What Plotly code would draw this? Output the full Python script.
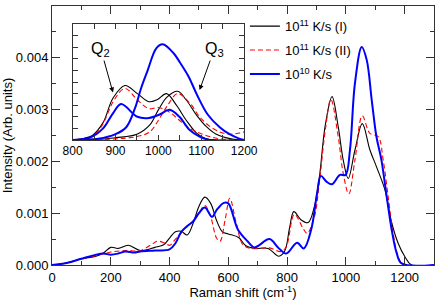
import plotly.graph_objects as go

# ---------------- main panel data (Intensity in units of 1e-3) ----------------
x_I = [0, 50, 100, 150, 175, 200, 225, 260, 300, 350, 380, 400, 420, 440, 460, 480, 500, 520, 540, 560,
       580, 600, 635, 660, 690, 735, 772, 792, 808, 823, 848, 872, 893, 910, 930, 953, 974, 991, 1008,
       1031, 1056, 1082, 1104, 1133, 1155, 1178, 1201, 1224, 1300]
y_I = [0, 0.04, 0.12, 0.17, 0.23, 0.34, 0.32, 0.38, 0.28, 0.34, 0.39, 0.52, 0.64, 0.65, 0.58, 0.80, 1.13,
       1.31, 1.19, 0.86, 0.64, 0.60, 0.53, 0.37, 0.32, 0.32, 0.17, 0.27, 0.70, 1.03, 0.87, 0.82, 1.13,
       1.70, 2.70, 3.25, 2.67, 2.03, 1.67, 2.22, 2.73, 2.22, 1.90, 1.45, 0.84, 0.42, 0.16, 0.0, 0]

x_II = [0, 50, 100, 150, 200, 250, 300, 340, 360, 385, 400, 420, 440, 460, 480, 500, 520, 540, 560, 572,
        590, 605, 627, 650, 678, 740, 780, 797, 825, 854, 868, 893, 910, 930, 949, 974, 991, 1010, 1031,
        1056, 1082, 1110, 1127, 1144, 1161, 1178, 1195, 1300]
y_II = [0, 0.04, 0.12, 0.18, 0.25, 0.28, 0.28, 0.40, 0.46, 0.42, 0.38, 0.50, 0.62, 0.76, 0.84, 1.00,
        1.15, 0.93, 0.52, 0.46, 0.90, 1.29, 0.81, 0.39, 0.32, 0.33, 0.26, 0.35, 0.98, 0.71, 0.61, 0.93,
        1.60, 2.60, 3.20, 2.48, 1.77, 1.37, 2.03, 2.88, 2.54, 2.48, 2.03, 1.32, 0.61, 0.16, 0.01, 0]

x_10 = [0, 50, 100, 150, 175, 200, 225, 250, 280, 300, 350, 400, 420, 440, 460, 480, 500, 520, 545, 560,
        585, 600, 633, 667, 689, 740, 769, 797, 834, 857, 882, 902, 915, 934, 953, 980, 999, 1014, 1031,
        1054, 1071, 1088, 1104, 1121, 1139, 1156, 1173, 1190, 1300]
y_10 = [0, 0.04, 0.12, 0.20, 0.22, 0.20, 0.22, 0.26, 0.24, 0.26, 0.28, 0.30, 0.42, 0.64, 0.75, 0.84,
        1.00, 1.11, 0.93, 1.06, 1.20, 1.19, 0.68, 0.45, 0.34, 0.50, 0.34, 0.22, 0.43, 0.32, 0.68, 1.38,
        1.72, 1.61, 1.56, 1.74, 1.74, 2.22, 3.51, 4.21, 3.96, 3.19, 2.48, 2.03, 1.32, 0.68, 0.23, 0.03, 0]

# ---------------- inset data (arbitrary units) ----------------
ix_I_q2 = [800, 827, 846, 871, 894, 922, 951, 978, 998, 1019, 1042, 1065, 1089, 1112, 1140, 1200]
iy_I_q2 = [0, 0.015, 0.04, 0.15, 0.36, 0.47, 0.40, 0.33, 0.35, 0.40, 0.30, 0.17, 0.06, 0.01, 0, 0]
ix_I_q3 = [800, 860, 900, 950, 980, 1000, 1020, 1045, 1065, 1089, 1112, 1135, 1170, 1200]
iy_I_q3 = [0, 0.005, 0.02, 0.05, 0.13, 0.26, 0.37, 0.42, 0.345, 0.215, 0.115, 0.05, 0.01, 0]

ix_II_q2 = [800, 840, 866, 896, 922, 951, 978, 1000, 1026, 1049, 1073, 1096, 1119, 1143, 1200]
iy_II_q2 = [0, 0.02, 0.11, 0.34, 0.445, 0.345, 0.27, 0.28, 0.24, 0.17, 0.10, 0.06, 0.03, 0.01, 0]
ix_II_q3 = [800, 900, 950, 980, 1000, 1020, 1045, 1073, 1096, 1119, 1143, 1166, 1189, 1200]
iy_II_q3 = [0, 0.01, 0.03, 0.07, 0.17, 0.29, 0.40, 0.32, 0.20, 0.12, 0.07, 0.05, 0.06, 0.07]

ix_10_q2 = [800, 840, 871, 894, 913, 951, 978, 1003, 1026, 1049, 1073, 1096, 1119, 1200]
iy_10_q2 = [0, 0.02, 0.10, 0.23, 0.31, 0.20, 0.19, 0.22, 0.26, 0.20, 0.086, 0.03, 0, 0]
ix_10_q3 = [800, 860, 900, 925, 945, 960, 975, 995, 1010, 1035, 1050, 1070, 1090, 1115, 1143, 1166, 1190, 1200]
iy_10_q3 = [0, 0.01, 0.05, 0.11, 0.27, 0.45, 0.60, 0.79, 0.825, 0.75, 0.67, 0.55, 0.39, 0.22, 0.11, 0.05, 0.01, 0]

x_ticks = [0, 200, 400, 600, 800, 1000, 1200]
y_ticks = [0.000, 0.001, 0.002, 0.003, 0.004, 0.005]
inset_ticks = [800, 900, 1000, 1100, 1200]

names = ["10<sup>11</sup> K/s (I)", "10<sup>11</sup> K/s (II)", "10<sup>10</sup> K/s"]

FONT = "Liberation Sans, Arial, sans-serif"

fig = go.Figure()
styles = [dict(color="#000000", width=1.1),
          dict(color="#ff0000", width=1.1, dash="5px,3px"),
          dict(color="#0000ff", width=2)]

for i, (xs, ys, nm, st) in enumerate([(x_I, y_I, names[0], styles[0]),
                                      (x_II, y_II, names[1], styles[1]),
                                      (x_10, y_10, names[2], styles[2])]):
    fig.add_trace(go.Scatter(x=xs, y=[v * 1e-3 for v in ys], mode="lines", name=nm,
                             legendgroup="g%d" % i,
                             line=dict(shape="spline", smoothing=1.0, **st),
                             xaxis="x", yaxis="y"))

for xs, ys, st in [(ix_I_q2, iy_I_q2, styles[0]), (ix_I_q3, iy_I_q3, styles[0]),
                   (ix_II_q2, iy_II_q2, styles[1]), (ix_II_q3, iy_II_q3, styles[1]),
                   (ix_10_q2, iy_10_q2, styles[2]), (ix_10_q3, iy_10_q3, styles[2])]:
    fig.add_trace(go.Scatter(x=xs, y=ys, mode="lines", showlegend=False,
                             line=dict(shape="spline", smoothing=1.0, **st),
                             xaxis="x2", yaxis="y2"))

axis_common = dict(showline=True, linecolor="#333333", linewidth=1, mirror="allticks",
                   ticks="inside", tickcolor="#333333", showgrid=False, zeroline=False,
                   automargin=False)

fig.update_layout(
    width=436, height=300,
    margin=dict(l=52, r=2, t=6, b=35),
    paper_bgcolor="white", plot_bgcolor="white",
    font=dict(family=FONT, size=13, color="#000000"),
    showlegend=True,
    legend=dict(x=0.505, y=0.98, xanchor="left", yanchor="top", bgcolor="rgba(0,0,0,0)",
                font=dict(size=13), itemwidth=30, tracegroupgap=4),
    xaxis=dict(range=[0, 1300], tickvals=x_ticks, ticklen=8, domain=[0, 1],
               minor=dict(dtick=100, ticklen=4, ticks="inside", tickcolor="#333333"),
               title=dict(text="Raman shift (cm<sup>-1</sup>)", standoff=2, font=dict(size=13)),
               **axis_common),
    yaxis=dict(range=[0, 0.005], tickvals=y_ticks, tickformat=".3f", ticklen=8, domain=[0, 1],
               minor=dict(dtick=0.0005, ticklen=4, ticks="inside", tickcolor="#333333"),
               title=dict(text="Intensity (Arb. units)", standoff=6, font=dict(size=13)),
               **axis_common),
    xaxis2=dict(range=[800, 1200], tickvals=inset_ticks, ticklen=5, domain=[0.054, 0.503],
                anchor="y2", tickfont=dict(size=12),
                minor=dict(dtick=50, ticklen=5, ticks="inside", tickcolor="#333333"),
                **axis_common),
    yaxis2=dict(range=[0, 1], dtick=0.1, ticklen=5, domain=[0.4826, 0.9305], anchor="x2",
                showticklabels=False, **axis_common),
    annotations=[
        dict(text="Q<sub>2</sub>", x=894, y=0.41, ax=866, ay=0.78, xref="x2", yref="y2",
             axref="x2", ayref="y2", showarrow=True, arrowhead=2, arrowsize=1, arrowwidth=1,
             arrowcolor="#000000", standoff=0, font=dict(size=16)),
        dict(text="Q<sub>3</sub>", x=1096, y=0.43, ax=1130, ay=0.78, xref="x2", yref="y2",
             axref="x2", ayref="y2", showarrow=True, arrowhead=2, arrowsize=1, arrowwidth=1,
             arrowcolor="#000000", standoff=0, font=dict(size=16)),
    ],
)

fig.write_html("out.html", config={"displayModeBar": False},
               post_script="document.body.style.margin='0px';")
